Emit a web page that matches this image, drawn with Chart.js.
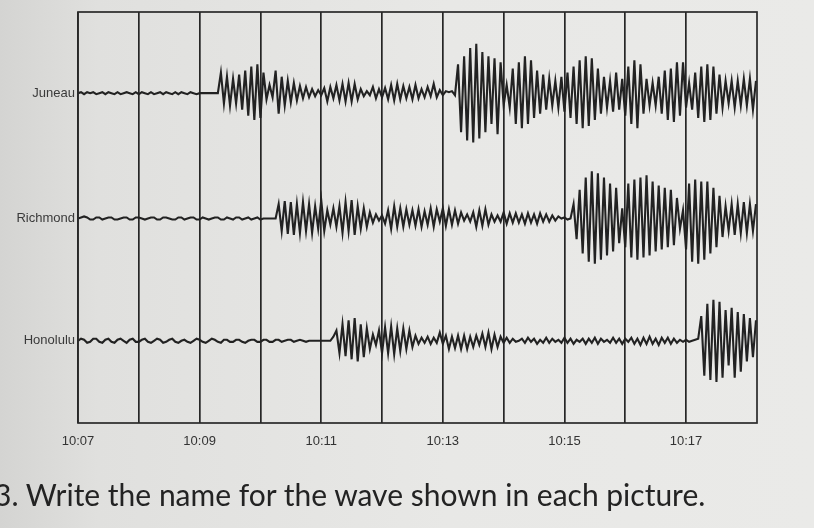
<!DOCTYPE html>
<html>
<head>
<meta charset="utf-8">
<script src="https://cdn.jsdelivr.net/npm/chart.js@4"></script>
<style>
    html, body {
        margin: 0;
        padding: 0;
        width: 814px;
        height: 528px;
        overflow: hidden;
        background: linear-gradient(90deg, #d4d4d2 0%, #e0e0de 12%, #e8e8e6 55%, #eaeae8 100%);
    }
    #wrap {
        position: relative;
        width: 814px;
        height: 528px;
    }
    #question {
        position: absolute;
        left: -6px;
        top: 476px;
        font-family: Lato, "Noto Sans", sans-serif;
        font-size: 30px;
        color: #232323;
        white-space: nowrap;
    }
</style>
</head>
<body>
<div id="wrap">
    <canvas id="seismoChart" width="814" height="528"></canvas>
    <div id="question">3. Write the name for the wave shown in each picture.</div>
</div>
<script>
// Stations (top to bottom) and where each trace sits on the y scale
const stations = ['Juneau', 'Richmond', 'Honolulu'];
const stationOffsets = [321, 199, 80];

// Time axis: seconds after 10:07, one grid line per minute, label every 2 minutes
const gridMinutes = [0, 1, 2, 3, 4, 5, 6, 7, 8, 9, 10];
const tickLabels = ['10:07', '', '10:09', '', '10:11', '', '10:13', '', '10:15', '', '10:17'];
const sampleStep = 3; // seconds between readings

// Trace readings (deflection from the resting line)
const juneau = [
    0, 1, -1, 1, 0, 1, -1, 0, 1, -1,
    1, 0, -1, 1, -1, 0, 1, 0, -1, 1,
    -1, 1, 0, -1, 1, -1, 0, 1, -1, 1,
    0, -1, 1, -1, 1, 0, -1, 1, 0, -1,
    0, 0, 0, 0, 0, 0, 0, 20, -10, 16,
    -12, 14, -10, 18, -16, 22, -22, 26, -26, 28,
    -24, 20, -6, 8, -4, 22, -20, 16, -12, 12,
    -9, 10, -7, 7, -5, 6, -4, 4, -3, 3,
    -2, 5, -8, 6, -5, 8, -7, 9, -8, 10,
    -8, 9, -6, 4, -3, 2, -2, 6, -5, 4,
    -4, 5, -6, 8, -7, 9, -6, 7, -5, 6,
    -6, 8, -5, 4, -4, 6, -3, 9, -4, 3,
    -2, 2, 1, 2, -2, 28, -38, 36, -46, 44,
    -48, 48, -44, 40, -38, 36, -30, 34, -40, 30,
    -12, 8, -14, 24, -30, 30, -34, 36, -30, 32,
    -24, 22, -20, 18, -16, 14, -12, 12, -14, 16,
    -18, 20, -24, 26, -30, 32, -34, 36, -32, 34,
    -26, 24, -20, 16, -14, 12, -18, 20, -16, 14,
    -22, 26, -30, 32, -34, 28, -20, 14, -12, 10,
    -12, 16, -20, 22, -26, 24, -28, 30, -22, 30,
    -14, 10, -16, 20, -24, 26, -28, 28, -26, 26,
    -20, 18, -14, 12, -10, 12, -14, 12, -12, 14,
    -12, 14, -16, 12
];

const richmond = [
    0, 1, 2, 1, -1, -1, 1, 1, -1, 0,
    1, 1, -1, -1, 0, 1, 1, -1, -1, 1,
    1, 0, -1, 0, 1, 1, -1, -1, 1, 1,
    0, -1, -1, 1, 1, -1, 0, 1, 1, -1,
    -1, 1, 0, -1, 0, 1, 1, -1, -1, 1,
    0, -1, 1, 1, -1, 0, 1, -1, 0, 1,
    -1, 0, 0, 0, 0, 0, 14, -12, 17, -15,
    16, -16, 14, -14, 16, -12, 14, -14, 12, -10,
    18, -12, 8, -6, 10, -8, 12, -14, 16, -12,
    18, -16, 12, -10, 10, -8, 6, -4, 4, -2,
    3, -5, 8, -10, 12, -8, 10, -8, 9, -6,
    8, -7, 9, -8, 7, -6, 10, -8, 9, -3,
    10, -7, 9, -6, 8, -5, 6, -2, 4, -3,
    6, -8, 8, -7, 9, -6, 4, -3, 3, -3,
    6, -5, 5, -4, 5, -4, 4, -5, 5, -4,
    4, -5, 5, -3, 4, -3, 3, -2, 2, 0,
    1, -1, 0, 14, -20, 28, -34, 40, -42, 46,
    -44, 44, -40, 40, -36, 34, -32, 30, -24, 10,
    -28, 34, -38, 38, -40, 40, -38, 42, -36, 36,
    -32, 32, -30, 30, -28, 28, -26, 20, -10, 8,
    -30, 34, -42, 38, -44, 36, -40, 36, -34, 30,
    -28, 22, -18, 12, -12, 14, -16, 14, -14, 16,
    -14, 14, -12, 14
];

const honolulu = [
    0, 2, 1, -2, -1, 2, 2, -1, -2, 1,
    2, -1, -2, 1, 2, 0, -2, 1, 2, -1,
    -1, 1, 2, -1, -2, 0, 2, 1, -2, -1,
    1, 2, -1, -2, 0, 1, -1, -2, 0, 2,
    1, -1, -2, 0, 2, 1, -1, -2, 1, 1,
    -1, -1, 1, 1, -1, -2, 0, 1, 1, -1,
    -1, 1, 1, -1, -1, 1, 1, -1, 0, 1,
    1, -1, 0, 1, 0, -1, 0, 0, 0, 0,
    0, 0, 0, 0, 4, 10, -12, 16, -15, 20,
    -18, 22, -20, 16, -16, 12, -8, 6, -4, 10,
    -12, 13, -12, 14, -13, 12, -10, 12, -8, 10,
    -6, 5, -3, 3, -2, 4, -3, 3, -2, 8,
    -3, 5, -8, 4, -7, 5, -8, 5, -8, 4,
    -6, 5, -4, 7, -6, 8, -8, 6, -6, 4,
    -2, 3, -2, 2, -1, 0, 2, -2, 3, -1,
    2, -3, 1, -2, 3, -2, 2, -1, 1, -2,
    3, -2, 2, -3, 1, -1, 2, -3, 2, -2,
    3, -3, 2, -1, 1, -2, 3, -2, 2, -3,
    2, -1, 3, -3, 2, -4, 3, -3, 4, -3,
    2, -4, 3, -2, 3, -3, 2, -2, 1, -1,
    1, -1, 0, 1, 2, 24, -34, 36, -38, 40,
    -40, 38, -36, 30, -24, 32, -36, 28, -30, 26,
    -20, 22, -16, 20
];

const traces = [juneau, richmond, honolulu];

// Build datasets: each reading is placed on its station's resting line
const datasets = traces.map((values, s) => ({
    label: stations[s],
    data: values.map((v, i) => ({ x: i * sampleStep, y: stationOffsets[s] + v })),
    borderColor: '#222',
    borderWidth: 2.1,
    pointRadius: 0,
    tension: 0,
    fill: false
}));

// Draw the box round the plot
const framePlugin = {
    id: 'frame',
    afterDraw(chart) {
        const { ctx, chartArea } = chart;
        ctx.save();
        ctx.strokeStyle = '#2a2a2a';
        ctx.lineWidth = 1.7;
        ctx.strokeRect(chartArea.left, chartArea.top, chartArea.right - chartArea.left, chartArea.bottom - chartArea.top);
        ctx.restore();
    }
};

const ctx = document.getElementById('seismoChart').getContext('2d');
new Chart(ctx, {
    type: 'line',
    data: { datasets: datasets },
    options: {
        responsive: false,
        animation: false,
        layout: { padding: { top: 12, right: 57, bottom: 0, left: 0 } },
        plugins: {
            legend: { display: false },
            tooltip: { enabled: false }
        },
        scales: {
            x: {
                type: 'linear',
                min: 0,
                max: 670,
                afterBuildTicks: scale => {
                    scale.ticks = gridMinutes.map(m => ({ value: m * 60 }));
                },
                afterFit: scale => { scale.height = 105; },
                ticks: {
                    maxRotation: 0,
                    autoSkip: false,
                    padding: 11,
                    color: '#333',
                    font: { family: '"Liberation Sans", Arial, sans-serif', size: 13 },
                    callback: (value, index) => tickLabels[index]
                },
                grid: {
                    color: '#262626',
                    lineWidth: 1.7,
                    drawTicks: false
                },
                border: { display: false }
            },
            y: {
                min: 0,
                max: 400,
                afterBuildTicks: scale => {
                    scale.ticks = stationOffsets.map(v => ({ value: v }));
                },
                afterFit: scale => { scale.width = 78; },
                ticks: {
                    padding: 3,
                    color: '#3a3a3a',
                    font: { family: '"Liberation Sans", Arial, sans-serif', size: 13 },
                    callback: (value, index) => stations[index]
                },
                grid: { display: false, drawTicks: false },
                border: { display: false }
            }
        }
    },
    plugins: [framePlugin]
});
</script>
</body>
</html>
